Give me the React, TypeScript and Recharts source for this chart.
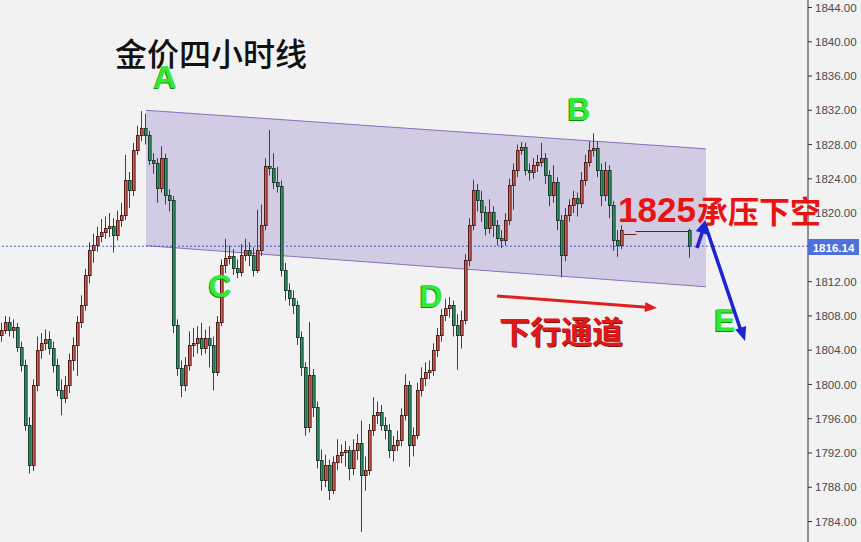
import React from 'react';
import { ComposedChart, Bar, Area, XAxis, YAxis, ReferenceLine } from 'recharts';

// 4-hour gold candles (oldest first)
const opens = [
  1805.8, 1806.4, 1807.3, 1806.4, 1806.7, 1804.4, 1802.3, 1795.3, 1790.6, 1799.9,
  1804.0, 1804.8, 1805.3, 1804.3, 1802.3, 1799.4, 1798.4, 1799.9, 1802.9, 1804.6,
  1807.3, 1809.3, 1812.8, 1815.7, 1816.3, 1817.3, 1817.8, 1818.3, 1818.5, 1817.4,
  1819.2, 1819.8, 1823.9, 1822.7, 1827.4, 1829.1, 1829.9, 1829.1, 1826.2, 1825.8,
  1822.9, 1826.4, 1822.1, 1821.5, 1806.9, 1801.9, 1799.9, 1802.3, 1804.6, 1804.8,
  1805.4, 1804.3, 1805.4, 1804.6, 1801.5, 1807.3, 1813.9, 1814.8, 1815.0, 1813.6,
  1813.1, 1815.1, 1815.7, 1815.1, 1813.4, 1815.7, 1818.6, 1825.5, 1825.3, 1823.6,
  1823.2, 1813.4, 1811.0, 1810.1, 1809.3, 1805.5, 1802.0, 1795.0, 1801.1, 1797.4,
  1791.2, 1788.8, 1790.6, 1787.7, 1790.9, 1791.8, 1792.1, 1792.3, 1790.2, 1792.3,
  1793.2, 1789.4, 1790.0, 1794.7, 1796.4, 1796.8, 1795.3, 1794.7, 1792.3, 1792.9,
  1793.5, 1796.4, 1799.9, 1792.9, 1794.1, 1799.4, 1800.8, 1801.5, 1801.7, 1804.0,
  1805.8, 1808.1, 1808.9, 1809.3, 1806.9, 1805.8, 1807.5, 1814.5, 1818.6, 1822.7,
  1821.5, 1820.1, 1818.3, 1820.1, 1818.6, 1817.1, 1816.9, 1819.2, 1823.3, 1825.0,
  1827.4, 1827.7, 1825.0, 1824.8, 1825.6, 1826.0, 1826.4, 1824.4, 1822.1, 1823.6,
  1819.2, 1815.1, 1819.8, 1820.9, 1821.8, 1821.2, 1823.9, 1826.0, 1827.4, 1827.6,
  1825.0, 1822.1, 1825.0, 1820.9, 1816.9, 1816.3,
  1817.6, 1817.6, 1817.6, 1817.9, 1817.9, 1817.9, 1817.9, 1817.9, 1817.9, 1817.9,
  1817.9, 1817.9, 1817.9, 1817.9, 1817.9, 1817.9,
  1818.0,
];

const closes = [
  1806.4, 1807.3, 1806.4, 1806.7, 1804.4, 1802.3, 1795.3, 1790.6, 1799.9, 1804.0,
  1804.8, 1805.3, 1804.3, 1802.3, 1799.4, 1798.4, 1799.9, 1802.9, 1804.6, 1807.3,
  1809.3, 1812.8, 1815.7, 1816.3, 1817.3, 1817.8, 1818.3, 1818.5, 1817.4, 1819.2,
  1819.8, 1823.9, 1822.7, 1827.4, 1829.1, 1829.9, 1829.1, 1826.2, 1825.8, 1822.9,
  1826.4, 1822.1, 1821.5, 1806.9, 1801.9, 1799.9, 1802.3, 1804.6, 1804.8, 1805.4,
  1804.3, 1805.4, 1804.6, 1801.5, 1807.3, 1813.9, 1814.8, 1815.0, 1813.6, 1813.1,
  1815.1, 1815.7, 1815.1, 1813.4, 1815.7, 1818.6, 1825.5, 1825.3, 1823.6, 1823.2,
  1813.4, 1811.0, 1810.1, 1809.3, 1805.5, 1802.0, 1795.0, 1801.1, 1797.4, 1791.2,
  1788.8, 1790.6, 1787.7, 1790.9, 1791.8, 1792.1, 1792.3, 1790.2, 1792.3, 1793.2,
  1789.4, 1790.0, 1794.7, 1796.4, 1796.8, 1795.3, 1794.7, 1792.3, 1792.9, 1793.5,
  1796.4, 1799.9, 1792.9, 1794.1, 1799.4, 1800.8, 1801.5, 1801.7, 1804.0, 1805.8,
  1808.1, 1808.9, 1809.3, 1806.9, 1805.8, 1807.5, 1814.5, 1818.6, 1822.7, 1821.5,
  1820.1, 1818.3, 1820.1, 1818.6, 1817.1, 1816.9, 1819.2, 1823.3, 1825.0, 1827.4,
  1827.7, 1825.0, 1824.8, 1825.6, 1826.0, 1826.4, 1824.4, 1822.1, 1823.6, 1819.2,
  1815.1, 1819.8, 1820.9, 1821.8, 1821.2, 1823.9, 1826.0, 1827.4, 1827.6, 1825.0,
  1822.1, 1825.0, 1820.9, 1816.9, 1816.3, 1818.0,
  1817.6, 1817.6, 1817.6, 1817.9, 1817.9, 1817.9, 1817.9, 1817.9, 1817.9, 1817.9,
  1817.9, 1817.9, 1817.9, 1817.9, 1817.9, 1817.9,
  1816.14,
];

const highs = [
  1807.2, 1808.0, 1807.9, 1807.6, 1807.2, 1805.0, 1802.9, 1796.2, 1800.6, 1805.6,
  1806.0, 1806.4, 1806.2, 1805.0, 1803.0, 1800.6, 1801.0, 1803.6, 1805.5, 1808.0,
  1810.4, 1813.5, 1816.6, 1817.6, 1818.4, 1819.3, 1819.6, 1820.0, 1819.4, 1820.3,
  1821.2, 1826.8, 1824.8, 1828.2, 1830.2, 1831.9, 1831.6, 1829.6, 1827.0, 1826.4,
  1827.8, 1826.9, 1822.8, 1822.0, 1807.6, 1802.8, 1803.2, 1806.2, 1806.6, 1806.8,
  1807.2, 1806.4, 1806.8, 1805.6, 1808.0, 1814.6, 1817.0, 1816.2, 1815.8, 1814.6,
  1816.4, 1817.0, 1816.6, 1816.0, 1820.4, 1821.0, 1826.4, 1829.7, 1827.0, 1825.4,
  1823.8, 1814.2, 1811.8, 1811.0, 1809.8, 1806.2, 1802.6, 1807.3, 1801.8, 1798.0,
  1792.4, 1791.8, 1791.2, 1791.6, 1793.6, 1793.0, 1793.4, 1792.8, 1793.6, 1794.2,
  1795.8, 1791.6, 1795.4, 1798.5, 1798.0, 1797.6, 1796.2, 1795.4, 1794.0, 1794.6,
  1797.2, 1801.2, 1800.4, 1795.0, 1800.2, 1802.0, 1802.6, 1802.8, 1804.8, 1806.6,
  1808.8, 1810.0, 1810.2, 1809.8, 1808.2, 1808.6, 1815.2, 1819.4, 1823.9, 1823.4,
  1822.6, 1820.8, 1821.6, 1820.8, 1819.2, 1818.0, 1820.0, 1824.0, 1825.8, 1828.0,
  1828.3, 1828.2, 1825.8, 1826.4, 1826.8, 1828.2, 1827.0, 1825.0, 1825.6, 1824.2,
  1819.8, 1820.6, 1821.6, 1822.6, 1822.4, 1824.8, 1826.8, 1828.4, 1829.3, 1828.4,
  1825.8, 1826.0, 1825.6, 1821.4, 1818.0, 1818.6,
  1817.6, 1817.6, 1817.6, 1817.9, 1817.9, 1817.9, 1817.9, 1817.9, 1817.9, 1817.9,
  1817.9, 1817.9, 1817.9, 1817.9, 1817.9, 1817.9,
  1818.2,
];

const lows = [
  1805.0, 1805.9, 1805.6, 1805.4, 1803.8, 1801.5, 1794.6, 1789.6, 1789.9, 1799.2,
  1803.0, 1804.0, 1803.5, 1801.4, 1798.6, 1796.4, 1797.8, 1799.0, 1801.6, 1801.0,
  1806.6, 1808.6, 1811.8, 1814.2, 1815.5, 1816.6, 1817.0, 1817.2, 1815.4, 1816.8,
  1818.4, 1819.2, 1820.6, 1822.0, 1826.8, 1828.4, 1828.0, 1825.6, 1824.6, 1821.2,
  1822.4, 1821.0, 1820.2, 1806.0, 1801.0, 1798.5, 1799.2, 1801.6, 1803.2, 1803.6,
  1803.4, 1803.6, 1802.0, 1799.3, 1801.0, 1806.8, 1813.0, 1814.0, 1812.8, 1812.4,
  1812.6, 1814.4, 1813.8, 1812.6, 1813.0, 1815.0, 1818.0, 1824.4, 1822.8, 1822.4,
  1812.6, 1809.8, 1809.2, 1808.2, 1804.6, 1801.0, 1794.0, 1794.4, 1796.2, 1790.2,
  1787.6, 1788.0, 1786.5, 1787.2, 1790.0, 1790.8, 1790.4, 1788.8, 1789.4, 1791.2,
  1782.8, 1787.6, 1789.4, 1794.0, 1795.4, 1794.6, 1793.6, 1791.4, 1791.0, 1792.2,
  1792.8, 1795.8, 1790.4, 1791.6, 1793.6, 1798.6, 1799.8, 1800.6, 1801.0, 1803.2,
  1805.0, 1807.4, 1807.8, 1805.6, 1801.7, 1804.2, 1807.0, 1813.8, 1818.0, 1820.2,
  1819.0, 1817.4, 1817.6, 1817.2, 1816.2, 1815.9, 1816.2, 1818.6, 1820.4, 1824.2,
  1826.8, 1824.4, 1823.8, 1824.0, 1824.8, 1825.4, 1823.4, 1820.8, 1821.2, 1818.0,
  1812.5, 1814.4, 1819.0, 1820.0, 1819.6, 1820.6, 1823.2, 1825.4, 1826.6, 1824.2,
  1820.8, 1821.4, 1819.4, 1815.6, 1814.9, 1815.8,
  1817.6, 1817.6, 1817.6, 1817.9, 1817.9, 1817.9, 1817.9, 1817.9, 1817.9, 1817.9,
  1817.9, 1817.9, 1817.9, 1817.9, 1817.9, 1817.9,
  1814.8,
];

// descending channel: candle slot and [lower, upper] price at each end
const channelStart = { slot: 36, lower: 1816.2, upper: 1832.0 };
const channelEnd = { slot: 176, lower: 1811.4, upper: 1827.5 };

// 1816 is hidden under the current-price tag in the reference
const yTicks = [1784, 1788, 1792, 1796, 1800, 1804, 1808, 1812, 1820, 1824, 1828, 1832, 1836, 1840, 1844];
const currentPrice = 1816.14;

const SLOT_COUNT = 202;

const data = Array.from({ length: SLOT_COUNT }, (_, i) => {
  let channel: number[] | undefined;
  if (i === channelStart.slot) channel = [channelStart.lower, channelStart.upper];
  if (i === channelEnd.slot) channel = [channelEnd.lower, channelEnd.upper];
  return {
    i,
    open: opens[i],
    close: closes[i],
    range: i < closes.length ? [lows[i], highs[i]] : undefined,
    channel,
  };
});

const Candle = (props: any) => {
  const { x, y, width, height, payload } = props;
  if (!payload || payload.range == null) return null;
  const [low, high] = payload.range;
  const { open, close } = payload;
  const top = Math.min(y, y + height);
  const h = Math.abs(height);
  const left = Math.round(x);
  if (high === low) {
    // market closed: flat bar
    const yy = Math.round(top) + 0.5;
    return <line x1={left - 0.5} x2={left + 4.5} y1={yy} y2={yy} stroke="#5e2424" strokeWidth={1} />;
  }
  const ratio = h / (high - low);
  const yOf = (v: number) => top + (high - v) * ratio;
  const up = close >= open;
  const cx = left + 1.5;
  const bTop = Math.round(yOf(Math.max(open, close))) + 0.5;
  const bBot = Math.max(Math.round(yOf(Math.min(open, close))) + 0.5, bTop + 1);
  return (
    <g>
      <line x1={cx} x2={cx} y1={top} y2={top + h} stroke="#2c4d38" strokeWidth={1} />
      <rect
        x={left + 0.5}
        y={bTop}
        width={2.6}
        height={bBot - bTop}
        fill={up ? '#e0574d' : '#1f9b67'}
        stroke={up ? '#4d1d18' : '#1b3d2b'}
        strokeWidth={1}
      />
    </g>
  );
};

const cjk = '"Noto Sans CJK SC", sans-serif';
const latin = '"Liberation Sans", Arial, sans-serif';

const PointLabel = ({ x, y, text }: { x: number; y: number; text: string }) => (
  <g>
    <text x={x - 1} y={y + 1} textAnchor="middle" fontFamily={latin} fontWeight="bold" fontSize={32} fill="#168a16">
      {text}
    </text>
    <text x={x} y={y} textAnchor="middle" fontFamily={latin} fontWeight="bold" fontSize={32} fill="#33ea33">
      {text}
    </text>
  </g>
);

export default function App() {
  return (
    <div style={{ position: 'absolute', left: 0, top: 0, width: 861, height: 542, background: '#f2f2f2' }}>
      <ComposedChart
        width={861}
        height={542}
        data={data}
        margin={{ top: 0, right: 0, bottom: 0, left: 0 }}
        barCategoryGap={0}
        barGap={0}
      >
        <XAxis dataKey="i" type="category" hide />
        <YAxis
          orientation="right"
          width={53}
          domain={[1781.61, 1844.875]}
          allowDataOverflow
          ticks={yTicks}
          interval={0}
          tickFormatter={(v: number) => v.toFixed(2)}
          tick={{ fill: '#4a4a4a', fontSize: 11.5, fontFamily: latin }}
          tickSize={4}
          tickMargin={3}
          axisLine={{ stroke: '#333' }}
          tickLine={{ stroke: '#333' }}
        />
        <Area
          dataKey="channel"
          type="linear"
          connectNulls
          fill="#d1cbe4"
          fillOpacity={1}
          stroke="#8c6dba"
          strokeWidth={1}
          dot={false}
          activeDot={false}
          isAnimationActive={false}
        />
        <ReferenceLine y={currentPrice} stroke="#3f5fd0" strokeDasharray="2 2" strokeWidth={1} />
        <Bar dataKey="range" barSize={4} shape={<Candle />} isAnimationActive={false} />
      </ComposedChart>

      <svg width={861} height={542} style={{ position: 'absolute', left: 0, top: 0, pointerEvents: 'none' }}>
        <text x={115} y={66} fontFamily={cjk} fontWeight={500} fontSize={32} fill="#111">
          金价四小时线
        </text>

        <PointLabel x={165} y={88} text="A" />
        <PointLabel x={579} y={120} text="B" />
        <PointLabel x={220} y={297} text="C" />
        <PointLabel x={431} y={307} text="D" />
        <PointLabel x={725} y={331} text="E" />

        {/* red channel arrow */}
        <line x1={497} y1={296} x2={647} y2={307.3} stroke="#e01e1e" strokeWidth={3} />
        <polygon points="657,308 645.4,302.1 644.6,312.1" fill="#e01e1e" />
        <text x={500} y={344} fontFamily={cjk} fontWeight={700} fontSize={31} fill="#8a1010">
          下行通道
        </text>
        <text x={499} y={343} fontFamily={cjk} fontWeight={700} fontSize={31} fill="#e01818">
          下行通道
        </text>

        {/* blue expected path */}
        <line x1={697} y1={248} x2={703} y2={230} stroke="#1c24d2" strokeWidth={3.5} />
        <polygon points="705.5,220 708.2,235 695.8,231" fill="#1c24d2" />
        <line x1={705} y1={224} x2={741} y2={331} stroke="#1c24d2" strokeWidth={3.5} />
        <polygon points="745,341 746.2,326 735.2,329.6" fill="#1c24d2" />

        <text x={618} y={222} fontFamily={latin} fontWeight="bold" fontSize={35} fill="#e81414">
          1825
        </text>
        <text x={697} y={223} fontFamily={cjk} fontWeight={700} fontSize={31} fill="#e81414">
          承压下空
        </text>

        {/* current price tag */}
        <rect x={808} y={239} width={51} height={16} fill="#4f6fdc" />
        <text x={833.5} y={251.5} textAnchor="middle" fontFamily={latin} fontWeight="bold" fontSize={11.5} fill="#fff">
          1816.14
        </text>
      </svg>
    </div>
  );
}
